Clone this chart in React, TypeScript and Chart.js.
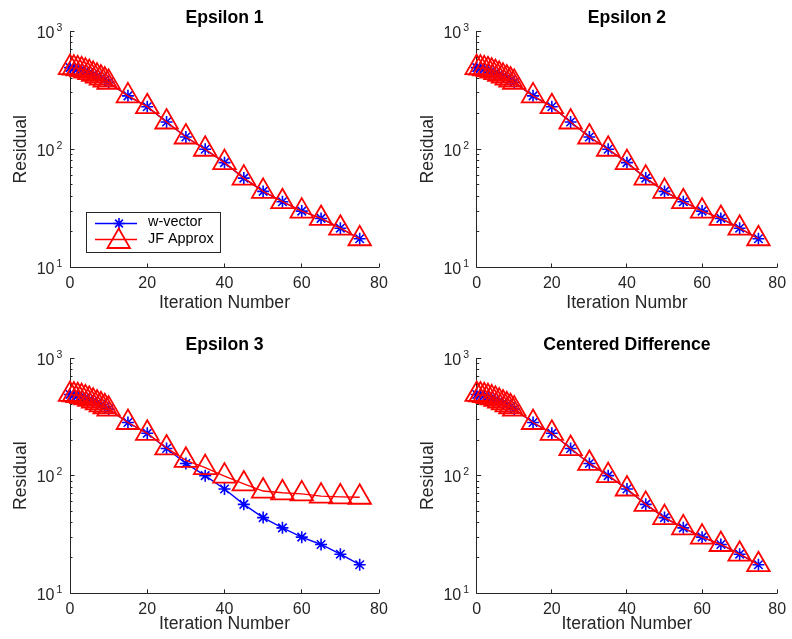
import React, { useEffect, useRef } from 'react';
import { Chart, registerables } from 'chart.js';

Chart.register(...registerables);

const FONT = "'Liberation Sans', Arial, Helvetica, sans-serif";
const AXIS_COLOR = '#262626';
const BLUE = '#0000ff';
const RED = '#ff0000';

// ---- data ----
const iterations = [0, 1, 2, 3, 4, 5, 6, 7, 8, 9, 10, 15, 20, 25, 30, 35, 40, 45, 50, 55, 60, 65, 70, 75];
const wVector = [490, 485, 478, 470, 458, 445, 430, 415, 400, 385, 368, 283, 229, 170, 127, 100, 77, 57, 44, 36, 30, 26, 21.5, 17.5];
const jfEpsilon1 = [490, 485, 478, 470, 458, 445, 430, 415, 400, 385, 368, 283, 229, 170, 127, 100, 77, 57, 44, 36, 30, 26, 21.5, 17.5];
const jfEpsilon2 = [490, 485, 478, 470, 458, 445, 430, 415, 400, 385, 368, 283, 229, 170, 127, 100, 77, 57, 44, 36, 30, 26, 21.5, 17.5];
const jfEpsilon3 = [490, 485, 478, 470, 458, 445, 430, 415, 400, 385, 368, 283, 229, 172, 135, 117, 99, 85, 74, 71.5, 70, 67, 66, 65.5];
const jfCentered = [490, 485, 478, 470, 458, 445, 430, 415, 400, 385, 368, 283, 229, 170, 127, 100, 77, 57, 44, 36, 30, 26, 21.5, 17.5];

const panelTitles = ['Epsilon 1', 'Epsilon 2', 'Epsilon 3', 'Centered Difference'];
const xAxisLabels = ['Iteration Number', 'Iteration Numbr', 'Iteration Number', 'Iteration Number'];
const yAxisLabel = 'Residual';
const seriesNames = ['w-vector', 'JF Approx'];
const xTickValues = [0, 20, 40, 60, 80];
const yMajorValues = [10, 100, 1000];
const yExponents = ['1', '2', '3'];
const yMinorMultipliers = [2, 3, 4, 5, 6, 7, 8, 9];

type Area = { l: number; t: number; r: number; b: number };
type PanelSpec = {
  title: string;
  xLabel: string;
  jf: number[];
  box: { left: number; top: number; width: number; height: number };
  area: Area;
  legend: boolean;
  titleY: number;
  xLabelY: number;
};

const crisp = (v: number) => Math.floor(v) + 0.5;

function drawTriangle(ctx: CanvasRenderingContext2D, x: number, y: number, r: number) {
  ctx.beginPath();
  ctx.moveTo(x, y - r);
  ctx.lineTo(x + r * 0.8660254, y + r * 0.5);
  ctx.lineTo(x - r * 0.8660254, y + r * 0.5);
  ctx.closePath();
  ctx.stroke();
}

function drawStar(ctx: CanvasRenderingContext2D, x: number, y: number, r: number) {
  ctx.beginPath();
  for (let k = 0; k < 4; k++) {
    const a = (k * Math.PI) / 4;
    const dx = Math.cos(a) * r;
    const dy = Math.sin(a) * r;
    ctx.moveTo(x - dx, y - dy);
    ctx.lineTo(x + dx, y + dy);
  }
  ctx.stroke();
}

function makeDecor(spec: PanelSpec) {
  return {
    id: 'matlabDecor',
    beforeDatasetsDraw(chart: any) {
      const ctx: CanvasRenderingContext2D = chart.ctx;
      const xs = chart.scales.x;
      const ys = chart.scales.y;
      const { left, right, top, bottom } = chart.chartArea;
      ctx.save();
      ctx.strokeStyle = AXIS_COLOR;
      ctx.lineWidth = 1;
      ctx.beginPath();
      ctx.moveTo(crisp(left), top);
      ctx.lineTo(crisp(left), crisp(bottom));
      ctx.lineTo(right, crisp(bottom));
      xTickValues.forEach((v) => {
        const px = crisp(xs.getPixelForValue(v));
        ctx.moveTo(px, crisp(bottom));
        ctx.lineTo(px, bottom - 4);
      });
      yMajorValues.forEach((v) => {
        const py = crisp(ys.getPixelForValue(v));
        ctx.moveTo(left, py);
        ctx.lineTo(left + 4.5, py);
      });
      [10, 100].forEach((d) => {
        yMinorMultipliers.forEach((m) => {
          const py = crisp(ys.getPixelForValue(d * m));
          ctx.moveTo(left, py);
          ctx.lineTo(left + 2.5, py);
        });
      });
      ctx.stroke();
      ctx.restore();
    },
    afterDraw(chart: any) {
      const ctx: CanvasRenderingContext2D = chart.ctx;
      const xs = chart.scales.x;
      const ys = chart.scales.y;
      const { left, right, top, bottom } = chart.chartArea;
      const cx = (left + right) / 2;
      ctx.save();
      ctx.fillStyle = '#000';
      ctx.font = `bold 17.6px ${FONT}`;
      ctx.textAlign = 'center';
      ctx.textBaseline = 'alphabetic';
      ctx.fillText(spec.title, cx, spec.titleY);
      ctx.fillStyle = AXIS_COLOR;
      ctx.font = `16px ${FONT}`;
      xTickValues.forEach((v) => {
        ctx.fillText(String(v), xs.getPixelForValue(v), bottom + 20.3);
      });
      yMajorValues.forEach((v, i) => {
        const py = ys.getPixelForValue(v);
        ctx.font = `16px ${FONT}`;
        ctx.textAlign = 'right';
        ctx.fillText('10', left - 15.5, py + 6.7);
        ctx.font = `10.5px ${FONT}`;
        ctx.textAlign = 'left';
        ctx.fillText(yExponents[i], left - 13.5, py - 0.3);
      });
      ctx.font = `17.6px ${FONT}`;
      ctx.textAlign = 'center';
      ctx.fillText(spec.xLabel, cx, spec.xLabelY);
      ctx.save();
      ctx.translate(left - 49, (top + bottom) / 2);
      ctx.rotate(-Math.PI / 2);
      ctx.textBaseline = 'middle';
      ctx.fillText(yAxisLabel, 0, 0);
      ctx.restore();
      if (spec.legend) {
        const bx = 86.5, by = 212.5, bw = 134, bh = 40;
        ctx.fillStyle = '#fff';
        ctx.fillRect(bx, by, bw, bh);
        ctx.strokeStyle = AXIS_COLOR;
        ctx.lineWidth = 1;
        ctx.strokeRect(bx, by, bw, bh);
        ctx.lineWidth = 1.4;
        ctx.strokeStyle = BLUE;
        ctx.beginPath();
        ctx.moveTo(95, 223.5);
        ctx.lineTo(137, 223.5);
        ctx.stroke();
        ctx.lineWidth = 1.6;
        drawStar(ctx, 119, 223.5, 5.5);
        ctx.lineWidth = 1.4;
        ctx.strokeStyle = RED;
        ctx.beginPath();
        ctx.moveTo(95, 239.5);
        ctx.lineTo(137, 239.5);
        ctx.stroke();
        ctx.lineWidth = 1.8;
        drawTriangle(ctx, 118.7, 241.5, 13);
        ctx.fillStyle = '#000';
        ctx.font = `14.4px ${FONT}`;
        ctx.textAlign = 'left';
        ctx.textBaseline = 'middle';
        ctx.fillText(seriesNames[0], 148, 222.5);
        ctx.fillText(seriesNames[1], 148, 239);
      }
      ctx.restore();
    },
  };
}

function Panel({ spec }: { spec: PanelSpec }) {
  const ref = useRef<HTMLCanvasElement | null>(null);
  useEffect(() => {
    if (!ref.current) return;
    const { width, height } = spec.box;
    const { l, t, r, b } = spec.area;
    const chart = new Chart(ref.current, {
      type: 'line',
      data: {
        datasets: [
          {
            label: seriesNames[0],
            data: iterations.map((x, i) => ({ x, y: wVector[i] })),
            borderColor: BLUE,
            borderWidth: 1.4,
            backgroundColor: 'transparent',
            pointStyle: 'star',
            pointRadius: 6,
            pointBorderWidth: 1.6,
            pointBorderColor: BLUE,
            pointBackgroundColor: 'transparent',
            tension: 0,
            clip: false as any,
            order: 1,
          },
          {
            label: seriesNames[1],
            data: iterations.map((x, i) => ({ x, y: spec.jf[i] })),
            borderColor: RED,
            borderWidth: 1.4,
            backgroundColor: 'transparent',
            pointStyle: 'triangle',
            pointRadius: 13,
            pointBorderWidth: 1.8,
            pointBorderColor: RED,
            pointBackgroundColor: 'transparent',
            tension: 0,
            clip: false as any,
            order: 0,
          },
        ],
      },
      options: {
        responsive: false,
        maintainAspectRatio: false,
        animation: false,
        events: [],
        layout: { padding: { left: 0, top: t, right: width - r, bottom: 0 } },
        plugins: { legend: { display: false }, tooltip: { enabled: false }, title: { display: false } },
        scales: {
          x: {
            type: 'linear',
            min: 0,
            max: 80,
            ticks: { display: false, stepSize: 20 },
            grid: { display: false, drawTicks: false },
            border: { display: false },
            afterFit: (s: any) => {
              s.height = height - b;
            },
          },
          y: {
            type: 'logarithmic',
            min: 10,
            max: 1000,
            ticks: { display: false },
            grid: { display: false, drawTicks: false },
            border: { display: false },
            afterFit: (s: any) => {
              s.width = l;
            },
          },
        },
      },
      plugins: [makeDecor(spec)],
    });
    return () => chart.destroy();
  }, [spec]);
  return (
    <canvas
      ref={ref}
      width={spec.box.width}
      height={spec.box.height}
      style={{
        position: 'absolute',
        left: spec.box.left,
        top: spec.box.top,
        width: spec.box.width,
        height: spec.box.height,
      }}
    />
  );
}

const specs: PanelSpec[] = [
  {
    title: panelTitles[0],
    xLabel: xAxisLabels[0],
    jf: jfEpsilon1,
    box: { left: 0, top: 0, width: 396, height: 320 },
    area: { l: 70, t: 31, r: 379, b: 267.5 },
    legend: true,
    titleY: 22.5,
    xLabelY: 308,
  },
  {
    title: panelTitles[1],
    xLabel: xAxisLabels[1],
    jf: jfEpsilon2,
    box: { left: 396, top: 0, width: 396, height: 320 },
    area: { l: 80.7, t: 31, r: 388, b: 267.5 },
    legend: false,
    titleY: 22.5,
    xLabelY: 308,
  },
  {
    title: panelTitles[2],
    xLabel: xAxisLabels[2],
    jf: jfEpsilon3,
    box: { left: 0, top: 320, width: 396, height: 319 },
    area: { l: 70, t: 38, r: 379, b: 273.3 },
    legend: false,
    titleY: 29.5,
    xLabelY: 309,
  },
  {
    title: panelTitles[3],
    xLabel: xAxisLabels[3],
    jf: jfCentered,
    box: { left: 396, top: 320, width: 396, height: 319 },
    area: { l: 80.7, t: 38, r: 388, b: 273.3 },
    legend: false,
    titleY: 29.5,
    xLabelY: 309,
  },
];

export default function App() {
  return (
    <div
      style={{
        position: 'absolute',
        left: 0,
        top: 0,
        width: 792,
        height: 639,
        background: '#fff',
        overflow: 'hidden',
      }}
    >
      {specs.map((s, i) => (
        <Panel key={i} spec={s} />
      ))}
    </div>
  );
}
